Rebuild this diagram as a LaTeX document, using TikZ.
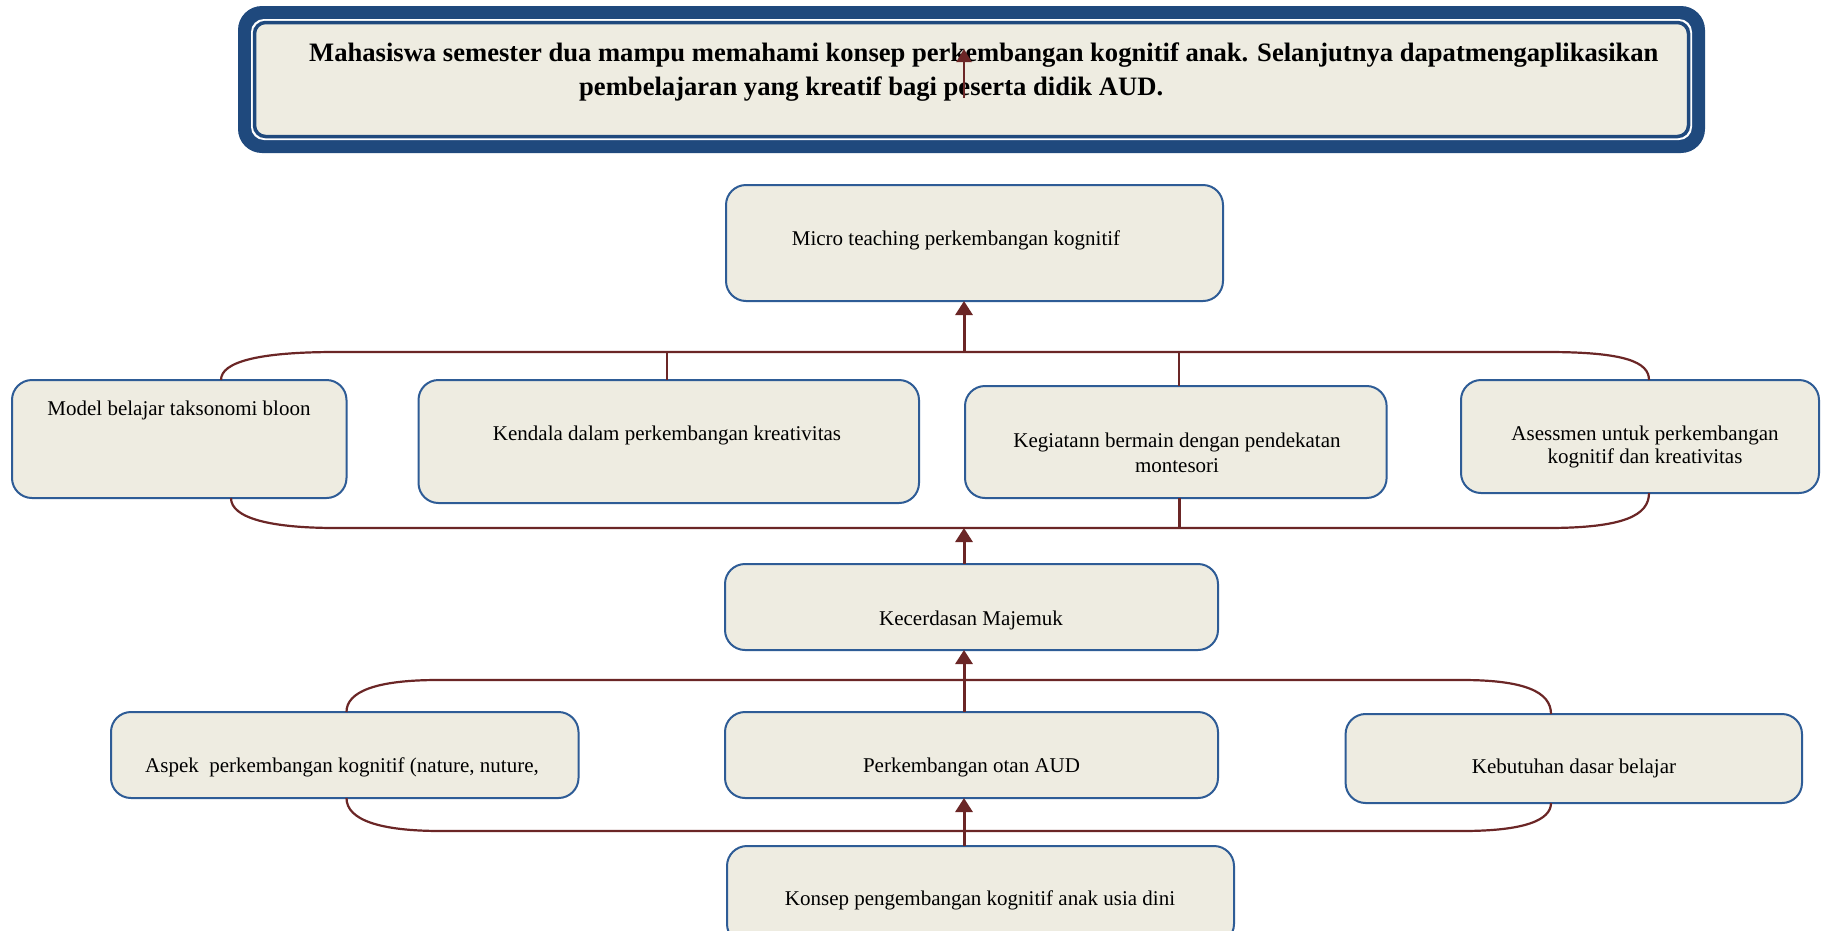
\documentclass[tikz,border=0pt]{standalone}
\usepackage{fontspec}
\setmainfont{Liberation Serif}
\usetikzlibrary{arrows.meta}
\definecolor{navy}{HTML}{1F497D}
\definecolor{bblue}{HTML}{2E5C96}
\definecolor{beige}{HTML}{EEECE1}
\definecolor{conn}{HTML}{6B2626}
\begin{document}
\begin{tikzpicture}[x=1pt,y=-1pt,
  box/.style={draw=bblue, fill=beige, line width=2pt, rounded corners=20pt, inner sep=0pt, outer sep=0pt},
  txt/.style={font=\fontsize{21}{24}\selectfont, inner sep=0pt, anchor=base, align=center},
  ttl/.style={font=\fontsize{26.6}{34}\selectfont\bfseries, inner sep=0pt, anchor=base west},
  bracket/.style={draw=conn, line width=2.2pt},
  uparrow/.style={draw=conn, line width=3pt, -{Triangle[length=14pt,width=17pt]}},
  ]
\useasboundingbox (0,0) rectangle (1821,930);
\clip (0,0) rectangle (1821,930);
\fill[white] (0,0) rectangle (1821,930);

% guide coordinates
\coordinate (ax) at (964,0);
\coordinate (g221) at (221,0);
\coordinate (g231) at (231,0);
\coordinate (g346) at (346.5,0);
\coordinate (g667) at (667,0);
\coordinate (g1179) at (1179,0);
\coordinate (g1649) at (1649,0);
\coordinate (g1551) at (1551,0);
\coordinate (lv1) at (0,352);
\coordinate (lv2) at (0,528);
\coordinate (lv3) at (0,680);
\coordinate (lv4) at (0,831);

% title box
\node[fill=navy, rounded corners=24pt, minimum width=1467pt, minimum height=147pt, inner sep=0pt, outer sep=0pt] (goalout) at (971.5,79.5) {};
\node[fill=white, rounded corners=13pt, minimum width=1441pt, minimum height=121pt, inner sep=0pt, outer sep=0pt] (goalgap) at (971.5,79.5) {};
\node[draw=navy, fill=beige, line width=3.5pt, rounded corners=11pt, minimum width=1434pt, minimum height=114pt, inner sep=0pt, outer sep=0pt] (goal) at (971.5,79.5) {};
\node[ttl] (goal1) at (309,61) {Mahasiswa semester dua mampu memahami konsep perkembangan kognitif anak. Selanjutnya dapatmengaplikasikan};
\node[ttl] (goal2) at (579,95) {pembelajaran yang kreatif bagi peserta didik AUD.};

% boxes
\node[box, minimum width=497pt, minimum height=116pt] (micro) at (974.5,243) {};
\node[box, minimum width=334.5pt, minimum height=118pt] (model) at (179.25,439) {};
\node[box, minimum width=500.5pt, minimum height=123pt] (kendala) at (668.75,441.5) {};
\node[box, minimum width=421.6pt, minimum height=112pt] (kegiatan) at (1175.8,442) {};
\node[box, minimum width=358pt, minimum height=113pt] (asesmen) at (1640,436.5) {};
\node[box, minimum width=493pt, minimum height=86pt] (kecerdasan) at (971.5,607) {};
\node[box, minimum width=467.5pt, minimum height=86pt] (aspek) at (344.75,755) {};
\node[box, minimum width=493pt, minimum height=86pt] (perkembangan) at (971.5,755) {};
\node[box, minimum width=456.4pt, minimum height=89pt] (kebutuhan) at (1573.8,758.5) {};
\node[box, minimum width=507pt, minimum height=98pt] (konsep) at (980.5,895) {};

% texts
\node[txt] (tmicro) at (956,245) {Micro teaching perkembangan kognitif};
\node[txt] (tmodel) at (179,415) {Model belajar taksonomi bloon};
\node[txt] (tkendala) at (667,440) {Kendala dalam perkembangan kreativitas};
\node[txt] (tkeg1) at (1177,447) {Kegiatann bermain dengan pendekatan};
\node[txt] (tkeg2) at (1177,472) {montesori};
\node[txt] (tases1) at (1645,440) {Asessmen untuk perkembangan};
\node[txt] (tases2) at (1645,463) {kognitif dan kreativitas};
\node[txt] (tkec) at (971,625) {Kecerdasan Majemuk};
\node[txt] (taspek) at (342,772) {Aspek\ \ perkembangan kognitif (nature, nuture,};
\node[txt] (tperk) at (971.5,772) {Perkembangan otan AUD};
\node[txt] (tkeb) at (1574,773) {Kebutuhan dasar belajar};
\node[txt] (tkonsep) at (980,905) {Konsep pengembangan kognitif anak usia dini};

% brackets
\draw[bracket] (g221 |- model.north) .. controls (221,362) and (258,352) .. (336,352) -- (1547,352) .. controls (1625,352) and (1649,362) .. (g1649 |- asesmen.north);
\draw[bracket] (g231 |- model.south) .. controls (231,518) and (270,528) .. (336,528) -- (1547,528) .. controls (1625,528) and (1649,515) .. (g1649 |- asesmen.south);
\draw[bracket] (g346 |- aspek.north) .. controls (346.5,692) and (375,680) .. (438,680) -- (1462,680) .. controls (1525,680) and (1551,692) .. (g1551 |- kebutuhan.north);
\draw[bracket] (g346 |- aspek.south) .. controls (346.5,820) and (380,831) .. (441,831) -- (1462,831) .. controls (1525,831) and (1551,820) .. (g1551 |- kebutuhan.south);
\draw[bracket] (g667 |- lv1) -- (g667 |- kendala.north);
\draw[bracket] (g1179 |- lv1) -- (g1179 |- kegiatan.north);
\draw[draw=conn, line width=3pt] (g1179 |- kegiatan.south) -- (g1179 |- lv2);

% arrows
\draw[uparrow] (ax |- lv1) -- (ax |- micro.south);
\draw[uparrow] (ax |- kecerdasan.north) -- (ax |- lv2);
\draw[uparrow] (ax |- perkembangan.north) -- (ax |- kecerdasan.south);
\draw[uparrow] (ax |- konsep.north) -- (ax |- perkembangan.south);
\coordinate (tstart) at (964,98);
\coordinate (tend) at (964,49);
\draw[draw=conn, line width=2.2pt, -{Triangle[length=13pt,width=15pt]}] (tstart) -- (tend);
\end{tikzpicture}
\end{document}
